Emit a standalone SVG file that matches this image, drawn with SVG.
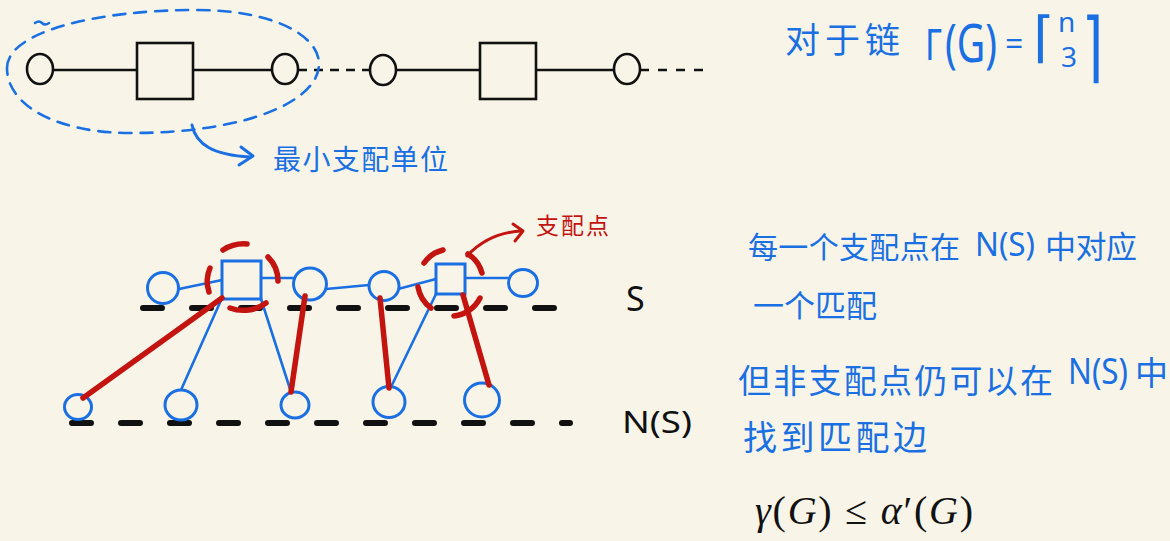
<svg xmlns="http://www.w3.org/2000/svg" width="1170" height="541" viewBox="0 0 1170 541">
<style>
.bg{fill:#f8f5e8}
.blk{fill:none;stroke:#111;stroke-width:2.6}
.bnode{fill:#f8f5e8;stroke:#111;stroke-width:2.6}
.blue{fill:none;stroke:#1a6fe3;stroke-width:2.6;stroke-linecap:round}
.unode{fill:#f8f5e8;stroke:#1a6fe3;stroke-width:3}
.red{fill:none;stroke:#c3140f;stroke-width:5.5;stroke-linecap:round}
.redthin{fill:none;stroke:#c3140f;stroke-width:3;stroke-linecap:round;stroke-linejoin:round}
.guide{fill:none;stroke:#111;stroke-width:6;stroke-linecap:round;stroke-dasharray:19 30}
.hw{font-family:"Noto Sans","Noto Sans CJK SC",sans-serif;fill:#1a6fe3}
.hr{font-family:"Noto Sans","Noto Sans CJK SC",sans-serif;fill:#c3140f}
.hk{font-family:"Noto Sans",sans-serif;fill:#111}
.math{font-family:"Liberation Serif",serif;fill:#111}
</style>
<rect class="bg" x="0" y="0" width="1170" height="541"/>

<!-- Top chain -->
<g id="chain-edges">
<line class="blk" x1="53" y1="70" x2="137" y2="70"/>
<line class="blk" x1="193" y1="70" x2="272" y2="70"/>
<line class="blk" x1="298" y1="70" x2="370" y2="70" style="stroke-dasharray:9 7"/>
<line class="blk" x1="396" y1="70" x2="480" y2="70"/>
<line class="blk" x1="536" y1="70" x2="614" y2="70"/>
<line class="blk" x1="640" y1="70" x2="710" y2="70" style="stroke-dasharray:9 9"/>
</g>
<g id="chain-c1"><ellipse class="bnode" cx="40" cy="69" rx="13" ry="15"/></g>
<g id="chain-s1"><rect class="bnode" x="137" y="43" width="56" height="56"/></g>
<g id="chain-c2"><ellipse class="bnode" cx="285" cy="69" rx="13" ry="15"/></g>
<g id="chain-c3"><ellipse class="bnode" cx="383" cy="70" rx="13" ry="15"/></g>
<g id="chain-s2"><rect class="bnode" x="480" y="43" width="56" height="56"/></g>
<g id="chain-c4"><ellipse class="bnode" cx="627" cy="69" rx="13" ry="15"/></g>

<!-- minimal dominating unit -->
<g id="unit-outline">
<path class="blue" style="stroke-dasharray:12 9" d="M 7,68 C 7,32 95,10 197,10 C 272,10 319,35 319,64 C 319,100 250,133 130,133 C 58,133 7,106 7,68 Z"/>
<path class="blue" d="M 35,23 q 4,-3 7,0 t 7,0"/>
<path class="blue" style="stroke-width:3" d="M 192,125 C 196,145 214,155 250,157"/>
<path class="blue" style="stroke-width:3;stroke-linejoin:round" d="M 241,147 L 253,156 L 239,165"/>
<text class="hw" x="273" y="170" font-size="28" textLength="175" lengthAdjust="spacing">最小支配单位</text>
</g>

<!-- top right formula -->
<g id="chain-formula">
<text class="hw" x="785" y="53" font-size="35" textLength="115" lengthAdjust="spacing">对于链</text>
<text class="hw" x="925" y="60" font-size="44" textLength="17" lengthAdjust="spacingAndGlyphs">Γ</text>
<text class="hw" transform="translate(945,62) scale(1,1.3)" font-size="40" textLength="52" lengthAdjust="spacingAndGlyphs">(G)</text>
<text class="hw" x="1005" y="55" font-size="32">=</text>
<text class="hw" x="1033" y="56" font-size="55" style="font-family:'DejaVu Sans',sans-serif">⌈</text>
<text class="hw" x="1058" y="32" font-size="28">n</text>
<text class="hw" x="1061" y="67" font-size="28">3</text>
<text class="hw" transform="translate(1082,73) scale(1,1.4)" font-size="55" style="font-family:'DejaVu Sans',sans-serif">⌉</text>
</g>

<!-- Bottom graph -->
<g id="connectors">
<line class="guide" x1="143" y1="308" x2="556" y2="308"/>
<line class="guide" x1="72" y1="423" x2="570" y2="423"/>
<line class="blue" x1="179" y1="289" x2="222" y2="280"/>
<line class="blue" x1="262" y1="278" x2="293" y2="278"/>
<line class="blue" x1="326" y1="289" x2="369" y2="285"/>
<line class="blue" x1="398" y1="289" x2="436" y2="279"/>
<line class="blue" x1="466" y1="278" x2="509" y2="278"/>
<line class="blue" x1="222" y1="298" x2="181" y2="390"/>
<line class="blue" x1="261" y1="299" x2="291" y2="392"/>
<line class="blue" x1="436" y1="294" x2="391" y2="387"/>
</g>
<g id="n-c1"><ellipse class="unode" cx="163" cy="288" rx="15.5" ry="15.5"/></g>
<g id="n-s1"><rect class="unode" x="222" y="261" width="39" height="38"/></g>
<g id="n-c2"><ellipse class="unode" cx="310" cy="284" rx="16.5" ry="16"/></g>
<g id="n-c3"><ellipse class="unode" cx="384" cy="286" rx="15" ry="14.5"/></g>
<g id="n-s2"><rect class="unode" x="436" y="264" width="29" height="30"/></g>
<g id="n-c4"><ellipse class="unode" cx="523" cy="283" rx="14.5" ry="13.5"/></g>
<g id="n-b1"><ellipse class="unode" cx="78" cy="407" rx="13.5" ry="12.5"/></g>
<g id="n-b2"><ellipse class="unode" cx="181" cy="405" rx="16" ry="15"/></g>
<g id="n-b3"><ellipse class="unode" cx="295" cy="405" rx="14" ry="13"/></g>
<g id="n-b4"><ellipse class="unode" cx="389" cy="402" rx="16" ry="15.5"/></g>
<g id="n-b5"><ellipse class="unode" cx="482" cy="400" rx="17.5" ry="17"/></g>

<g id="matching">
<line class="red" x1="222" y1="298" x2="83" y2="398"/>
<line class="red" x1="305" y1="296" x2="291" y2="392"/>
<line class="red" x1="380" y1="298" x2="389" y2="388"/>
<line class="red" x1="463" y1="295" x2="489" y2="385"/>
</g>
<g id="dom-mark-1">
<path class="red" d="M 223,250 A 37 35 0 0 1 247,244"/>
<path class="red" d="M 268,257 A 37 35 0 0 1 278,281"/>
<path class="red" d="M 230,308 A 37 35 0 0 0 266,303"/>
<path class="red" d="M 210,268 A 37 35 0 0 0 209,292"/>
</g>
<g id="dom-mark-2">
<path class="red" d="M 424,263 A 33 33 0 0 1 443,250"/>
<path class="red" d="M 468,254 A 33 33 0 0 1 482,273"/>
<path class="red" d="M 418,287 A 33 33 0 0 0 431,308"/>
<path class="red" d="M 454,316 A 33 33 0 0 0 480,298"/>
</g>
<g id="dom-label">
<path class="redthin" d="M 467,256 C 481,241 500,232 522,231"/>
<path class="redthin" d="M 513,224 L 523,231 L 515,241"/>
<text class="hr" x="536" y="234" font-size="23" textLength="73" lengthAdjust="spacing">支配点</text>
</g>

<g id="labels">
<text class="hk" x="626" y="311" font-size="34">S</text>
<text class="hk" x="622" y="433" font-size="30" textLength="70" lengthAdjust="spacingAndGlyphs">N(S)</text>
</g>

<!-- right notes -->
<g id="notes">
<text class="hw" x="748" y="258" font-size="30" textLength="212" lengthAdjust="spacing">每一个支配点在</text>
<text class="hw" x="975" y="256" font-size="33" textLength="60" lengthAdjust="spacingAndGlyphs">N(S)</text>
<text class="hw" x="1045" y="258" font-size="31" textLength="92" lengthAdjust="spacing">中对应</text>
<text class="hw" x="753" y="317" font-size="31" textLength="124" lengthAdjust="spacing">一个匹配</text>
<text class="hw" x="738" y="393" font-size="33" textLength="315" lengthAdjust="spacing">但非支配点仍可以在</text>
<text class="hw" x="1068" y="384" font-size="36" textLength="60" lengthAdjust="spacingAndGlyphs">N(S)</text>
<text class="hw" x="1135" y="385" font-size="33">中</text>
<text class="hw" x="743" y="450" font-size="34" textLength="184" lengthAdjust="spacing">找到匹配边</text>
</g>
<g id="bound">
<text class="math" x="755" y="524" font-size="40" textLength="218" lengthAdjust="spacing"><tspan font-style="italic">γ</tspan>(<tspan font-style="italic">G</tspan>) ≤ <tspan font-style="italic">α</tspan>′(<tspan font-style="italic">G</tspan>)</text>
</g>
</svg>
